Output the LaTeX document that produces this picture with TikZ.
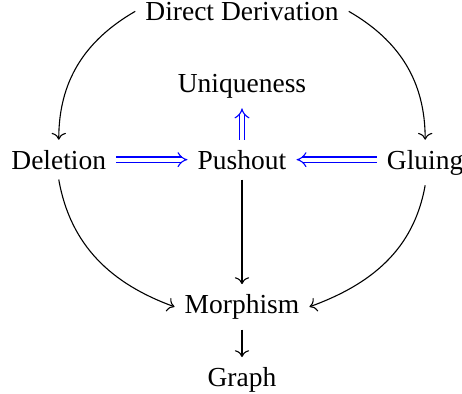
\documentclass[tikz,border=0pt]{standalone}
\usepackage{fontspec}
\setmainfont{Liberation Serif}
\usetikzlibrary{positioning,arrows.meta}

\begin{document}
\begin{tikzpicture}[
  box/.style={inner sep=3.5pt,text height=7pt},
  arr/.style={-{To},thin,color=black},
  dbl/.style={-{Implies},draw=blue,double,double distance=1.5pt}
]
  \useasboundingbox (-88pt,-81.5pt) rectangle (80pt,61.5pt);
  \node[box,anchor=base] (push) at (0,0) {Pushout};
  \node[box,above=11.4pt of push] (uniq) {Uniqueness};
  \node[box,above=11.5pt of uniq] (dd) {Direct Derivation};
  \node[box,left=25.9pt of push.base west,anchor=base east] (del) {Deletion};
  \node[box,right=29.2pt of push.base east,anchor=base west] (glu) {Gluing};
  \node[box,below=38pt of push] (morph) {Morphism};
  \node[box,below=10pt of morph] (graph) {Graph};
  \draw[arr] (dd.west) to[out=210,in=90] (del.north);
  \draw[arr] (dd.east) to[out=-30,in=90] (glu.north);
  \draw[arr] (del.south) to[out=-80,in=160] (morph.west);
  \draw[arr] (glu.south) to[out=-100,in=20] (morph.east);
  \draw[arr] (push) -- (morph);
  \draw[arr] (morph) -- (graph);
  \draw[dbl] (push) -- (uniq);
  \draw[dbl] (del) -- (push);
  \draw[dbl] (glu.west |- push.east) -- (push.east);
\end{tikzpicture}
\end{document}
